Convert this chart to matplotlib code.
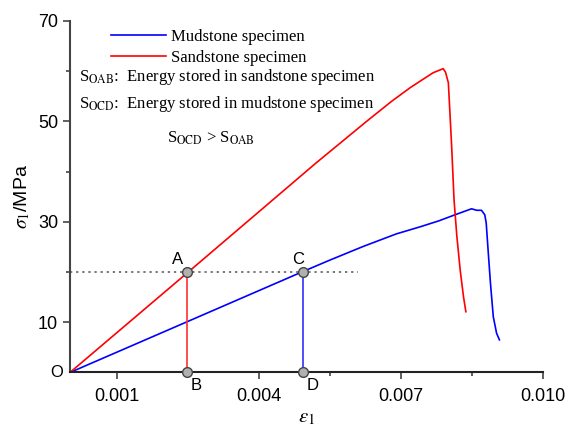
import numpy as np
import matplotlib
matplotlib.use('Agg')
import matplotlib.pyplot as plt

plt.rcParams['font.family'] = 'Liberation Sans'
plt.rcParams['mathtext.fontset'] = 'stix'

# Sandstone specimen curve (strain, stress MPa)
sand_strain = [0.0, 0.0025, 0.0052, 0.00627, 0.0068, 0.00719, 0.00745, 0.00768,
               0.00789, 0.00794, 0.0080, 0.00803, 0.00807,
               0.00812, 0.00818, 0.00825, 0.00832, 0.00837]
sand_stress = [0.0, 20.0, 41.7, 50.0, 54.0, 56.7, 58.3, 59.7,
               60.5, 59.8, 57.7, 52.3, 45.0,
               34.4, 27.1, 20.4, 15.1, 12.1]

# Mudstone specimen curve
mud_strain = [0.0, 0.0025, 0.0049, 0.0055, 0.0062, 0.0069, 0.0074, 0.0078,
              0.00814, 0.00849, 0.0086, 0.0087, 0.00877, 0.0088, 0.00884,
              0.00889, 0.00895, 0.00902, 0.00908]
mud_stress = [0.0, 10.2, 20.0, 22.4, 25.1, 27.6, 29.0, 30.2,
              31.4, 32.6, 32.3, 32.3, 31.4, 29.8, 24.4,
              17.8, 11.1, 7.8, 6.5]

# Key points
pt_A = (0.00247, 20.0)
pt_B = (0.00247, 0.0)
pt_C = (0.00492, 20.0)
pt_D = (0.00492, 0.0)
ref_stress = 20.0
ref_end = 0.0061

fig = plt.figure(figsize=(5.68, 4.28), dpi=100)
ax = fig.add_axes([0.1232, 0.1297, 0.8327, 0.8213])

ax.plot([0, ref_end], [ref_stress, ref_stress], ls=(0, (1.5, 2.5)), color='#555555', lw=1.1, zorder=1)

ax.plot(mud_strain, mud_stress, color='#0000ff', lw=1.2, label='Mudstone specimen')
ax.plot(sand_strain, sand_stress, color='#ff0000', lw=1.2, label='Sandstone specimen')

ax.plot([pt_A[0], pt_B[0]], [pt_A[1], pt_B[1]], color='#ff3030', lw=1.2)
ax.plot([pt_C[0], pt_D[0]], [pt_C[1], pt_D[1]], color='#3030ff', lw=1.2)

for p in (pt_A, pt_B, pt_C, pt_D):
    ax.plot(p[0], p[1], 'o', ms=7, mfc='#b0b0b0', mec='#444444', mew=1.0, zorder=5, clip_on=False)

ax.text(pt_A[0] - 0.0002, pt_A[1] + 1.0, 'A', fontsize=12, ha='center', va='bottom')
ax.text(pt_B[0] + 0.0002, pt_B[1] - 1.0, 'B', fontsize=12, ha='center', va='top')
ax.text(pt_C[0] - 0.0001, pt_C[1] + 1.0, 'C', fontsize=12, ha='center', va='bottom')
ax.text(pt_D[0] + 0.0002, pt_D[1] - 1.0, 'D', fontsize=12, ha='center', va='top')
ax.text(-0.00015, 0, 'O', fontsize=12, ha='right', va='center')

ax.set_xlim(0, 0.010)
ax.set_ylim(0, 70)
ax.set_xticks([0.001, 0.004, 0.007, 0.010])
ax.set_xticklabels(['0.001', '0.004', '0.007', '0.010'])
ax.set_xticks([0.0025, 0.0055, 0.0085], minor=True)
ax.set_yticks([10, 30, 50, 70])
ax.set_yticks([20, 40, 60], minor=True)
ax.tick_params(which='major', direction='out', length=5, width=1.2, labelsize=13, color='#444444')
ax.tick_params(which='minor', direction='out', length=3, width=1.2, color='#444444')
ax.tick_params(axis='x', which='major', pad=6)

for s in ('top', 'right'):
    ax.spines[s].set_visible(False)
for s in ('left', 'bottom'):
    ax.spines[s].set_linewidth(1.5)
ax.spines['left'].set_color('#444444')
ax.spines['bottom'].set_color('#222222')

ax.set_xlabel(r'$\varepsilon_1$', fontsize=15, labelpad=2)
ax.set_ylabel(r'$\sigma_1$/MPa', fontsize=14, labelpad=4)

ax.legend(loc='upper left', bbox_to_anchor=(0.055, 1.02), frameon=False,
          prop={'family': 'Liberation Serif', 'size': 12}, handlelength=3.3,
          handletextpad=0.3, labelspacing=0.3)

serif = {'family': 'Liberation Serif', 'size': 12}
ax.text(0.0002, 58.8, r'S$_{\mathrm{OAB}}$:  Energy stored in sandstone specimen',
        fontdict=serif, ha='left', va='center')
ax.text(0.0002, 53.4, r'S$_{\mathrm{OCD}}$:  Energy stored in mudstone specimen',
        fontdict=serif, ha='left', va='center')
ax.text(0.00298, 46.7, r'S$_{\mathrm{OCD}}$ > S$_{\mathrm{OAB}}$',
        fontdict=serif, ha='center', va='center')

fig.savefig('out.png', dpi=100)
